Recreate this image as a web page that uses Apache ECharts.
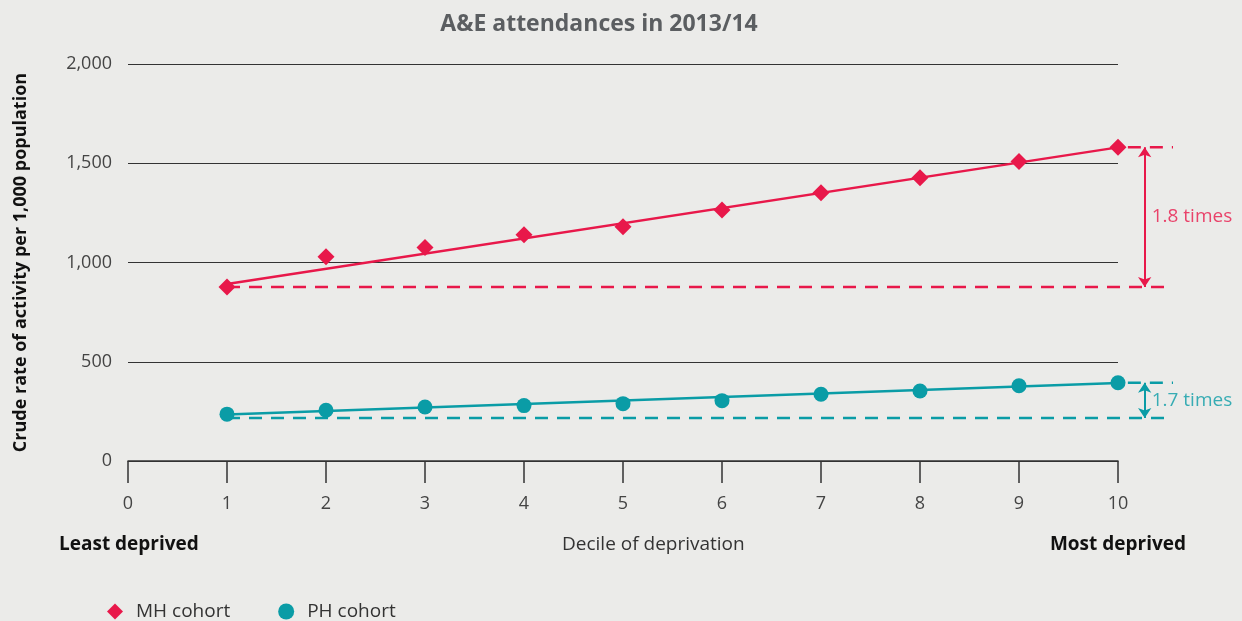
<!DOCTYPE html>
<html>
<head>
<meta charset="utf-8">
<title>A&amp;E attendances in 2013/14</title>
<script src="https://cdn.jsdelivr.net/npm/echarts@6/dist/echarts.min.js"></script>
<style>
    html, body { margin: 0; padding: 0; background: #ebebe9; }
    #chart { width: 1242px; height: 621px; }
</style>
</head>
<body>
<div id="chart"></div>
<script>
    // data
    const deciles = [1, 2, 3, 4, 5, 6, 7, 8, 9, 10];
    const mhRate = [877, 1029, 1075, 1140, 1180, 1265, 1351, 1427, 1509, 1581];
    const phRate = [236, 256, 272, 279, 289, 304, 336, 353, 379, 394];
    const mhTrend = [892, 1580];   // fitted line at decile 1 and 10
    const phTrend = [234, 393];
    const mhRange = [877, 1581];   // least / most deprived reference levels
    const phRange = [217, 394];
    const ratioLabels = ['1.8 times', '1.7 times'];
    const yTicks = [0, 500, 1000, 1500, 2000];

    const RED = '#e8184a';
    const TEAL = '#0a9ca6';
    const FONT = '"Open Sans", sans-serif';

    const toPairs = (xs, ys) => xs.map((x, i) => [x, ys[i]]);
    const ends = [deciles[0], deciles[deciles.length - 1]];
    const xOut = 10.556;   // right end of the dashed guides
    const xArrow = 10.27;

    let chart = echarts.init(document.getElementById('chart'));

    function dashed(pts, color) {
        return {
            type: 'line', xAxisIndex: 1, yAxisIndex: 1, data: pts,
            symbol: 'none', silent: true, z: 2,
            lineStyle: {color: color, width: 2.5, type: [13, 9]}
        };
    }

    function arrow(range, color, label) {
        return {
            type: 'scatter', xAxisIndex: 1, yAxisIndex: 1, silent: true,
            symbolSize: 0,
            data: [[xArrow, (range[0] + range[1]) / 2]],
            label: {
                show: true, position: 'right', distance: 7, formatter: label,
                color: color, fontSize: 19, fontFamily: FONT
            },
            markLine: {
                silent: true, symbol: ['arrow', 'arrow'], symbolSize: [10, 10],
                label: {show: false},
                lineStyle: {color: color, width: 2, type: 'solid'},
                data: [[{coord: [xArrow, range[1]]}, {coord: [xArrow, range[0]]}]]
            }
        };
    }

    let option = {
        backgroundColor: '#ebebe9',
        textStyle: {fontFamily: FONT},
        title: {
            text: 'A&E attendances in 2013/14',
            left: 594, textAlign: 'center', top: 8,
            textStyle: {color: '#5b5e61', fontSize: 23, fontWeight: 'bold', fontFamily: FONT}
        },
        legend: {
            left: 102, bottom: -5,
            itemWidth: 16, itemHeight: 16, itemGap: 48,
            textStyle: {color: '#333', fontSize: 19, fontFamily: FONT, padding: [0, 0, 0, 8]},
            data: [
                {name: 'MH cohort', icon: 'diamond'},
                {name: 'PH cohort', icon: 'circle'}
            ]
        },
        grid: [
            {left: 128, right: 124, top: 64, bottom: 160},
            {left: 128, right: 69, top: 64, bottom: 160}
        ],
        xAxis: [{
            type: 'value', gridIndex: 0, min: 0, max: 10, interval: 1,
            splitLine: {show: false},
            axisLine: {lineStyle: {color: '#333', width: 1.5}},
            axisTick: {length: 22, lineStyle: {color: '#333', width: 1.5}},
            axisLabel: {color: '#444', fontSize: 18, margin: 34, fontFamily: FONT}
        }, {
            type: 'value', gridIndex: 1, min: 0, max: xOut, show: false
        }],
        yAxis: [{
            type: 'value', gridIndex: 0, min: 0, max: 2000, interval: 500,
            axisLine: {show: false},
            axisTick: {show: false},
            splitLine: {lineStyle: {color: '#333', width: 1.2}},
            axisLabel: {
                color: '#444', fontSize: 18, margin: 16, fontFamily: FONT,
                formatter: v => yTicks.indexOf(v) >= 0 ? v.toLocaleString('en-GB') : ''
            },
            name: 'Crude rate of activity per 1,000 population',
            nameLocation: 'middle', nameGap: 98, nameRotate: 90,
            nameTextStyle: {color: '#111', fontSize: 18, fontWeight: 'bold', fontFamily: FONT}
        }, {
            type: 'value', gridIndex: 1, min: 0, max: 2000, show: false
        }],
        graphic: [
            {type: 'text', left: 59, top: 535, style: {text: 'Least deprived', fontSize: 19, fontWeight: 'bold', fill: '#111', fontFamily: FONT}},
            {type: 'text', left: 562, top: 535, style: {text: 'Decile of deprivation', fontSize: 19, fill: '#333', fontFamily: FONT}},
            {type: 'text', right: 56, top: 535, style: {text: 'Most deprived', fontSize: 19, fontWeight: 'bold', fill: '#111', fontFamily: FONT}}
        ],
        series: [
            dashed([[ends[0], mhRange[0]], [xOut, mhRange[0]]], RED),
            dashed([[10.1, mhRange[1]], [xOut, mhRange[1]]], RED),
            dashed([[ends[0], phRange[0]], [xOut, phRange[0]]], TEAL),
            dashed([[10.1, phRange[1]], [xOut, phRange[1]]], TEAL),
            {
                type: 'line', name: 'MH trend', data: toPairs(ends, mhTrend),
                symbol: 'none', silent: true, z: 3,
                lineStyle: {color: RED, width: 2.5}
            },
            {
                type: 'line', name: 'PH trend', data: toPairs(ends, phTrend),
                symbol: 'none', silent: true, z: 3,
                lineStyle: {color: TEAL, width: 2.5}
            },
            {
                type: 'scatter', name: 'MH cohort', data: toPairs(deciles, mhRate),
                symbol: 'diamond', symbolSize: 17, z: 5,
                itemStyle: {color: RED, opacity: 1}
            },
            {
                type: 'scatter', name: 'PH cohort', data: toPairs(deciles, phRate),
                symbol: 'circle', symbolSize: 15, z: 5,
                itemStyle: {color: TEAL, opacity: 1}
            },
            arrow(mhRange, RED, ratioLabels[0]),
            arrow(phRange, TEAL, ratioLabels[1])
        ]
    };

    chart.setOption(option);
</script>
</body>
</html>
